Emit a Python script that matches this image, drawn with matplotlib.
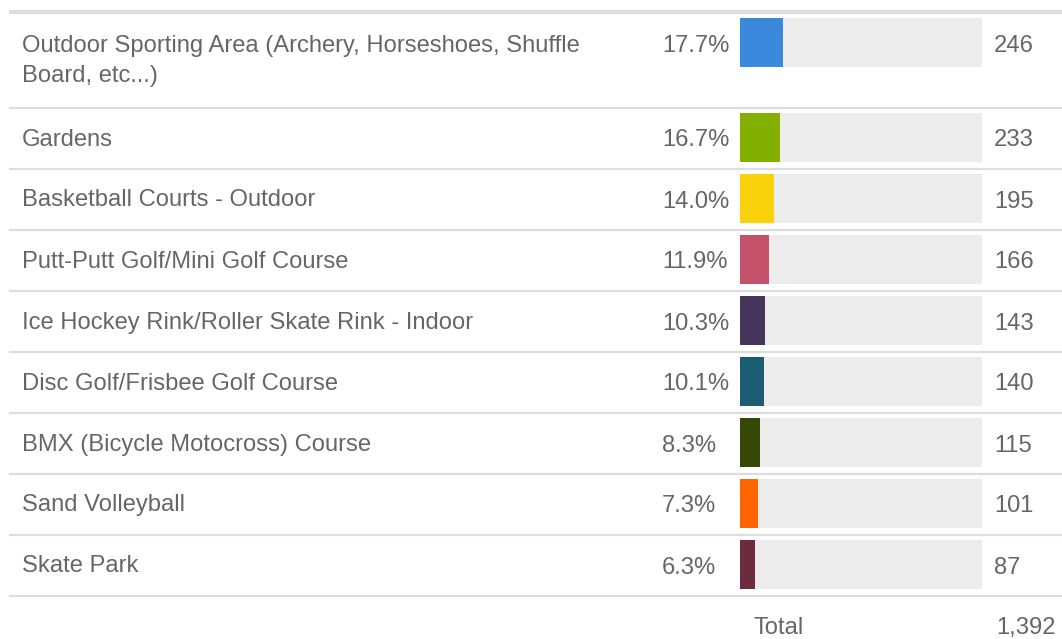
import matplotlib
matplotlib.use('Agg')
import matplotlib.pyplot as plt

plt.rcParams['font.family'] = ['Liberation Sans', 'DejaVu Sans']

# survey answers
labels = ['Outdoor Sporting Area (Archery, Horseshoes, Shuffle\nBoard, etc...)',
          'Gardens',
          'Basketball Courts - Outdoor',
          'Putt-Putt Golf/Mini Golf Course',
          'Ice Hockey Rink/Roller Skate Rink - Indoor',
          'Disc Golf/Frisbee Golf Course',
          'BMX (Bicycle Motocross) Course',
          'Sand Volleyball',
          'Skate Park']
percents = [17.7, 16.7, 14.0, 11.9, 10.3, 10.1, 8.3, 7.3, 6.3]
counts = [246, 233, 195, 166, 143, 140, 115, 101, 87]
total = 1392
colors = ['#3a89dc', '#83b000', '#f9d20c', '#c4506a', '#45355a',
          '#1b5e74', '#354806', '#ff6600', '#6e2b3e']

W, H = 1062, 639
fig = plt.figure(figsize=(W / 100, H / 100), dpi=100)
ax = fig.add_axes([0, 0, 1, 1])
ax.set_xlim(0, W)
ax.set_ylim(H, 0)
ax.axis('off')

txt = '#666666'
fs = 17.1
line_c = '#dddddd'
bar_x, bar_w, bar_h = 740, 242, 49

# row layout: first row is taller because its label wraps
tops = [12] + [108 + 61 * i for i in range(len(labels))]

ax.plot([9, W], [12, 12], color=line_c, lw=3, solid_capstyle='butt')
for i, (lab, p, c, col) in enumerate(zip(labels, percents, counts, colors)):
    top, bottom = tops[i], tops[i + 1]
    bar_top = top + 6 if i == 0 else top + 5
    bar_c = bar_top + bar_h / 2
    ax.barh(bar_c, bar_w, height=bar_h, left=bar_x, color='#ececec')
    ax.barh(bar_c, p / 100 * bar_w, height=bar_h, left=bar_x, color=col)
    ax.text(22, (top + bottom) / 2 + 1, lab, fontsize=fs, color=txt,
            va='center', ha='left', linespacing=1.45)
    ax.text(662, bar_c + 3, '%.1f%%' % p, fontsize=fs, color=txt, va='center', ha='left')
    ax.text(994, bar_c + 3, '%d' % c, fontsize=fs, color=txt, va='center', ha='left')
    ax.plot([9, W], [bottom, bottom], color=line_c, lw=1.6, solid_capstyle='butt')

ax.text(753, 628, 'Total', fontsize=fs, color=txt, va='center', ha='left')
ax.text(996, 628, '{:,}'.format(total), fontsize=fs, color=txt, va='center', ha='left')

fig.savefig('out.png', dpi=100)
